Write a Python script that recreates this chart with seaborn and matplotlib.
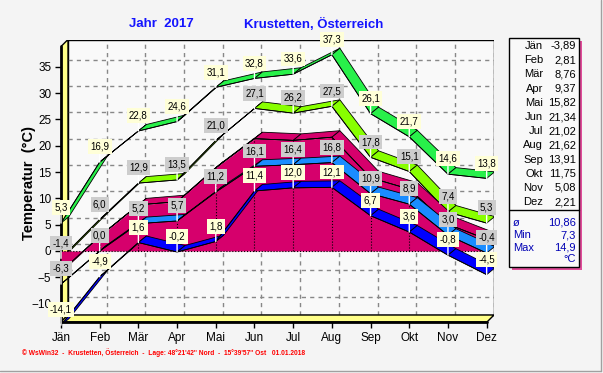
import numpy as np
import matplotlib
matplotlib.use('Agg')
import matplotlib.pyplot as plt
from matplotlib.patches import Polygon, Rectangle
from matplotlib.lines import Line2D
import seaborn as sns

# monthly values, Krustetten 2017
months = ['Jän', 'Feb', 'Mär', 'Apr', 'Mai', 'Jun', 'Jul', 'Aug', 'Sep', 'Okt', 'Nov', 'Dez']
abs_max = [5.3, 16.9, 22.8, 24.6, 31.1, 32.8, 33.6, 37.3, 26.1, 21.7, 14.6, 13.8]
mean_max = [-1.4, 6.0, 12.9, 13.5, 21.0, 27.1, 26.2, 27.5, 17.8, 15.1, 7.4, 5.3]
mean_temp = [-3.89, 2.81, 8.76, 9.37, 15.82, 21.34, 21.02, 21.62, 13.91, 11.75, 5.08, 2.21]
mean_min = [-6.3, 0.0, 5.2, 5.7, 11.2, 16.1, 16.4, 16.8, 10.9, 8.9, 3.0, -0.4]
abs_min = [-14.1, -4.9, 1.6, -0.2, 1.8, 11.4, 12.0, 12.1, 6.7, 3.6, -0.8, -4.5]
stat_names = ['ø', 'Min', 'Max']
stat_values = [10.86, 7.3, 14.9]
y_ticks = [-10, -5, 0, 5, 10, 15, 20, 25, 30, 35]

W, H = 603, 373
WX, WY = 0.181, 1.33          # depth of the walls (months, degrees)
DX, DY = 0.207, 1.24          # depth of the series ribbons
YMIN, YMAX = -13.5, 40.2
XMAX = 11.19

GREEN = '#28f04a'
LIME = '#88ff00'
MAGENTA = '#d6006c'
LBLUE = '#1a8cff'
DBLUE = '#0000ff'
YELLOW = '#ffff88'


def fx(x):
    return x / W


def fy(y):
    return 1 - y / H


def fmt(v, n=1):
    return f'{v:.{n}f}'.replace('.', ',')


sns.set_theme(style='white')
plt.rcParams['font.family'] = ['Liberation Sans', 'DejaVu Sans']

fig = plt.figure(figsize=(W / 100, H / 100), dpi=100, facecolor='#f4f4f4')
ax = fig.add_axes([fx(61), fy(322), 433 / W, 282.5 / H])
ax.patch.set_visible(False)
for s in ax.spines.values():
    s.set_visible(False)

# back wall, grid, side wall and floor
ax.add_patch(Polygon([(WX, YMIN + WY), (XMAX, YMIN + WY), (XMAX, YMAX), (WX, YMAX)],
                     closed=True, fc='#f9f9f9', ec='black', lw=1, zorder=0))
for v in y_ticks:
    ax.plot([WX, XMAX], [v + WY, v + WY], color='#888888', lw=1, ls=(0, (3, 3)), zorder=1)
for m in range(1, 12):
    ax.plot([m + WX, m + WX], [YMIN + WY, YMAX], color='#888888', lw=1, ls=(0, (3, 3)), zorder=1)
ax.add_patch(Polygon([(0, YMIN), (WX, YMIN + WY), (WX, YMAX), (0, YMAX - WY)],
                     closed=True, fc=YELLOW, ec='black', lw=1, zorder=2))
ax.add_patch(Polygon([(0, YMIN), (XMAX - WX, YMIN), (XMAX, YMIN + WY), (WX, YMIN + WY)],
                     closed=True, fc=YELLOW, ec='black', lw=1, zorder=2))
ax.plot([0, 0], [YMIN, YMAX - WY], color='black', lw=2, zorder=2.5, clip_on=False)
ax.plot([0, XMAX - WX], [YMIN, YMIN], color='black', lw=2, zorder=2.5, clip_on=False)


def ribbon(vals, face, z):
    x = np.arange(len(vals))
    y = np.asarray(vals, dtype=float)
    for i in range(len(x) - 1):
        poly = [(x[i], y[i]), (x[i + 1], y[i + 1]),
                (x[i + 1] + DX, y[i + 1] + DY), (x[i] + DX, y[i] + DY)]
        ax.add_patch(Polygon(poly, closed=True, fc=face, ec='black', lw=0.6, zorder=z))
    sns.lineplot(x=x, y=y, ax=ax, color='black', lw=0.6, zorder=z + 0.1,
                 legend=False, sort=False)


def labels(vals, fc):
    for i, v in enumerate(vals):
        ax.annotate(fmt(v), xy=(i, v), xytext=(0, 11), textcoords='offset points',
                    ha='center', va='center', fontsize=7, color='black',
                    bbox=dict(boxstyle='square,pad=0.25', fc=fc, ec='none'),
                    arrowprops=dict(arrowstyle='-', color='white', lw=1,
                                    shrinkA=0, shrinkB=0),
                    annotation_clip=False, zorder=20)


ribbon(abs_max, GREEN, 4)
ribbon(mean_max, LIME, 5)

# mean temperature as 3d area
x = np.arange(12)
ribbon(mean_temp, MAGENTA, 6)
ax.fill_between(x, 0, mean_temp, color=MAGENTA, lw=0, zorder=6.05)
ax.add_patch(Polygon([(11, 0), (11, mean_temp[-1]), (11 + DX, mean_temp[-1] + DY), (11 + DX, DY)],
                     closed=True, fc=MAGENTA, ec='black', lw=0.6, zorder=6))
ax.plot(x, mean_temp, color='black', lw=0.6, zorder=6.1)
ax.plot([0, 11], [0, 0], color='black', lw=0.8, ls=':', zorder=6.1)
ax.vlines(x[1:-1], 0, mean_temp[1:-1], colors='black', linestyles=':', lw=0.8, zorder=6.1)

ribbon(mean_min, LBLUE, 7)
ribbon(abs_min, DBLUE, 8)

labels(abs_max, '#ffffd8')
labels(mean_max, '#cdcdcd')
labels(mean_min, '#cdcdcd')
labels(abs_min, '#ffffd8')

ax.set_xlim(0, XMAX)
ax.set_ylim(YMIN, YMAX)
ax.set_xticks(range(12))
ax.set_xticklabels(months)
ax.set_yticks(y_ticks)
ax.tick_params(axis='both', direction='out', length=4, width=1, color='black',
               labelcolor='black', labelsize=8.5, pad=3, bottom=True, left=True)
ax.set_xlabel('')
ax.set_ylabel('')

# titles and footer
fig.text(fx(161), fy(24), 'Jahr  2017', color='#1414ff', fontsize=9.5,
         fontweight='bold', ha='center', va='center')
fig.text(fx(314), fy(24), 'Krustetten, Österreich', color='#1414ff', fontsize=9.5,
         fontweight='bold', ha='center', va='center')
fig.text(fx(29), fy(183), 'Temperatur  (°C)', rotation=90, fontsize=10.5,
         fontweight='bold', ha='center', va='center', color='black')
fig.text(fx(22), fy(353),
         "© WsWin32  -  Krustetten, Österreich  -  Lage: 48°21'42'' Nord  -  15°39'57'' Ost   01.01.2018",
         fontsize=4.8, fontweight='bold', color='red', ha='left', va='center')

# side panel with monthly means
fig.add_artist(Rectangle((fx(512), fy(270)), 70 / W, 229 / H, transform=fig.transFigure,
                         fc='#e04d9a', ec='none', zorder=1))
fig.add_artist(Rectangle((fx(509), fy(267)), 70 / W, 229 / H, transform=fig.transFigure,
                         fc='#f9f9f9', ec='black', lw=1, zorder=2))
fig.add_artist(Line2D([fx(509), fx(579)], [fy(210), fy(210)], color='black', lw=1,
                      transform=fig.transFigure, zorder=3))
for i, (m, v) in enumerate(zip(months, mean_temp)):
    yy = 46 + i * 14.2
    fig.text(fx(543), fy(yy), m, ha='right', va='center', fontsize=8, color='black', zorder=4)
    fig.text(fx(576), fy(yy), fmt(v, 2), ha='right', va='center', fontsize=8, color='black', zorder=4)
for i, (n, v) in enumerate(zip(stat_names, stat_values)):
    yy = 223 + i * 12.5
    fig.text(fx(513), fy(yy), n, ha='left', va='center', fontsize=8, color='#0000b4', zorder=4)
    fig.text(fx(576), fy(yy), fmt(v, 2 if i == 0 else 1), ha='right', va='center',
             fontsize=8, color='#0000b4', zorder=4)
fig.text(fx(576), fy(259), '°C', ha='right', va='center', fontsize=8, color='#0000b4', zorder=4)

# window frame
fig.add_artist(Line2D([fx(601), fx(601)], [fy(0), fy(371)], color='#a0a0a0', lw=1,
                      transform=fig.transFigure))
fig.add_artist(Line2D([fx(0), fx(601)], [fy(371), fy(371)], color='#a0a0a0', lw=1,
                      transform=fig.transFigure))

fig.savefig('out.png', dpi=100, facecolor=fig.get_facecolor())
